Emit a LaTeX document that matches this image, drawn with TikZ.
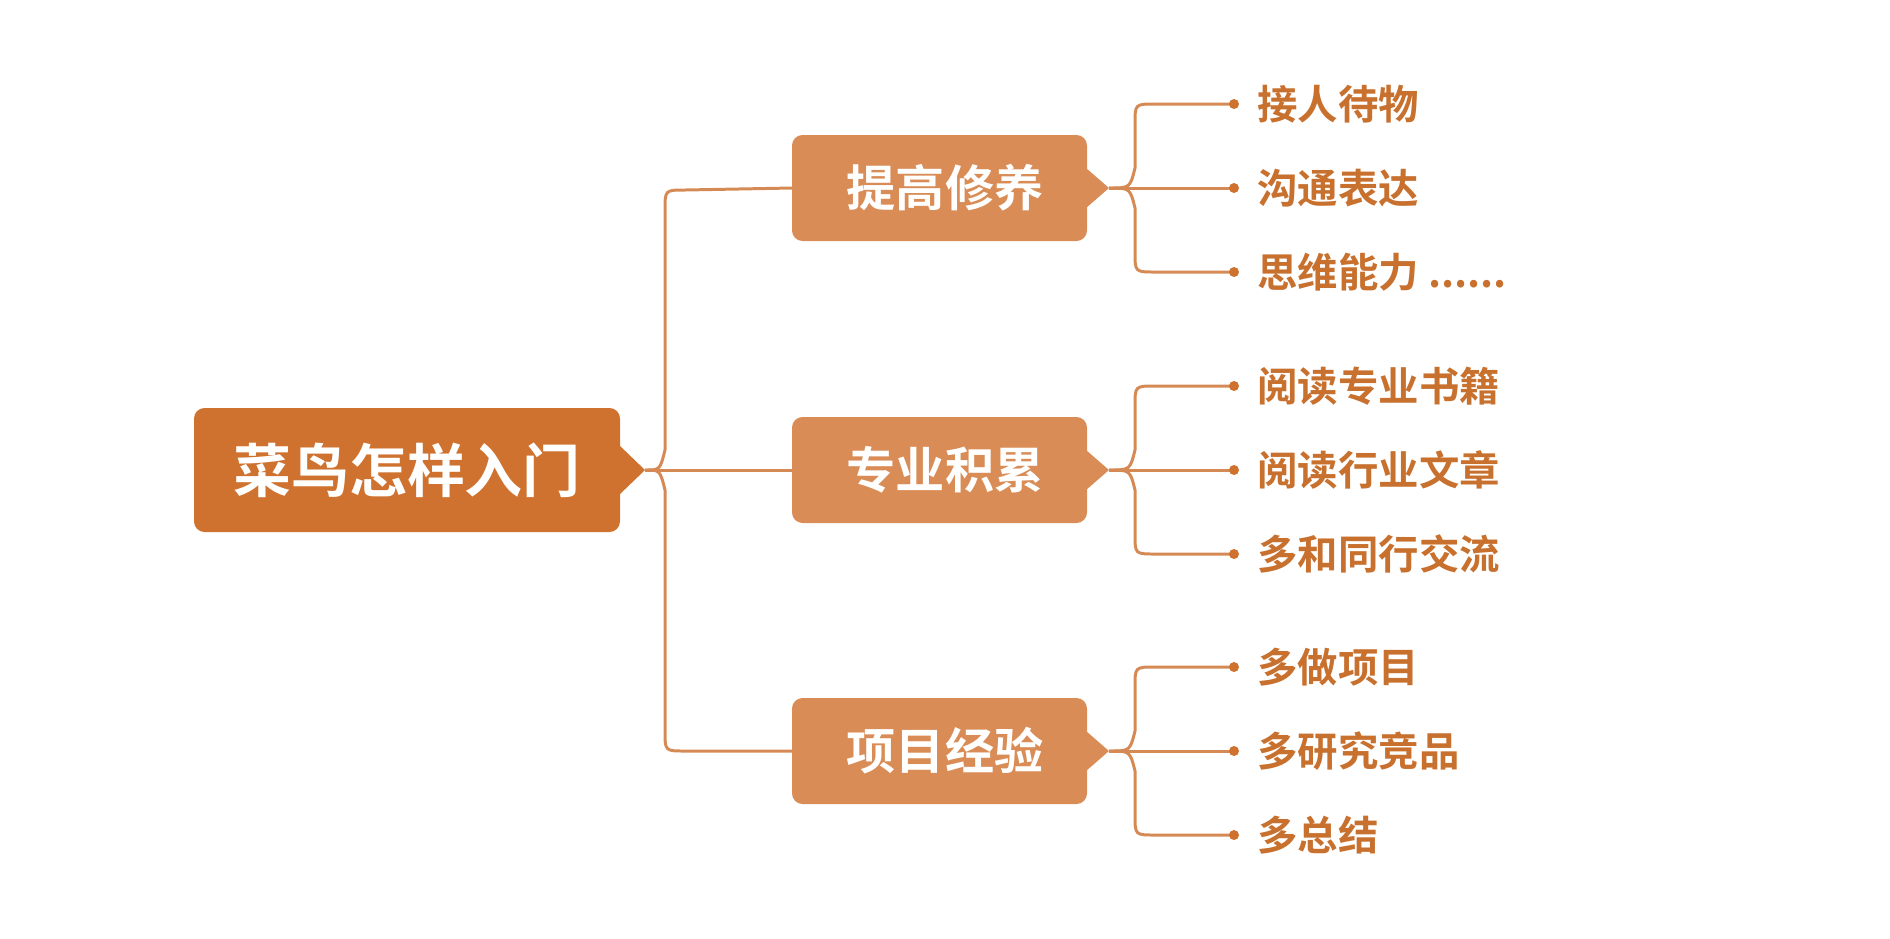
\documentclass[tikz,border=0pt]{standalone}
\usepackage{fontspec}
\newfontfamily\cjk{Noto Sans CJK SC}[BoldFont={Noto Sans CJK SC Bold}]
\definecolor{rootc}{HTML}{D0722F}
\definecolor{midc}{HTML}{D98C55}
\definecolor{linec}{HTML}{D58A55}
\definecolor{txtc}{HTML}{C8702E}
\begin{document}
\begin{tikzpicture}[x=0.02cm,y=-0.02cm,
  conn/.style={draw=linec,line width=1.7pt},
  leaftxt/.style={anchor=west,inner sep=0pt,text=txtc,font=\cjk\bfseries\fontsize{23}{26}\selectfont},
  midtxt/.style={text=white,font=\cjk\bfseries\fontsize{28}{32}\selectfont}]
\useasboundingbox (0,0) rectangle (1890,938);
% root
\fill[rootc,rounded corners=6] (194,408) rectangle (620,532);
\fill[rootc] (619,445) -- (645,470) -- (619,495) -- cycle;
\node[text=white,font=\cjk\bfseries\fontsize{33}{38}\selectfont] (root) at (407,470) {菜鸟怎样入门};
\coordinate (rt) at (645,470);
% mids
\foreach \n/\y/\t in {m1/188/提高修养,m2/470/专业积累,m3/751/项目经验}{
  \fill[midc,rounded corners=6] (792,\y-53) rectangle (1087,\y+53);
  \fill[midc] (1086,\y-20) -- (1109,\y) -- (1086,\y+20) -- cycle;
  \node[midtxt] (\n) at (945,\y) {\t};
  \coordinate (\n w) at (792,\y);
  \coordinate (\n t) at (1109,\y);
}
\draw[conn] (rt) -- (m2w);
\draw[conn] (rt) .. controls (660,470) .. (665,450) -- (665,210) .. controls (665,190) .. (685,190) -- (m1w);
\draw[conn] (rt) .. controls (660,470) .. (665,490) -- (665,731) .. controls (665,751) .. (685,751) -- (m3w);
% leaves
\foreach \m/\y/\a/\b/\c in {m1/188/接人待物/沟通表达/{思维能力 ......},m2/470/阅读专业书籍/阅读行业文章/多和同行交流,m3/751/多做项目/多研究竞品/多总结}{
  \coordinate (\m a) at (1234,\y-84);
  \coordinate (\m b) at (1234,\y);
  \coordinate (\m c) at (1234,\y+84);
  \draw[conn] (\m t) -- (\m b);
  \draw[conn] (\m t) .. controls (1130,\y) .. (1135,\y-20) -- (1135,\y-64) .. controls (1135,\y-84) .. (1155,\y-84) -- (\m a);
  \draw[conn] (\m t) .. controls (1130,\y) .. (1135,\y+20) -- (1135,\y+64) .. controls (1135,\y+84) .. (1155,\y+84) -- (\m c);
  \fill[rootc] (\m a) circle (5) (\m b) circle (5) (\m c) circle (5);
  \node[leaftxt] (\m la) at (1257,\y-84) {\a};
  \node[leaftxt] (\m lb) at (1257,\y) {\b};
  \node[leaftxt] (\m lc) at (1257,\y+84) {\c};
}
\end{tikzpicture}
\end{document}
